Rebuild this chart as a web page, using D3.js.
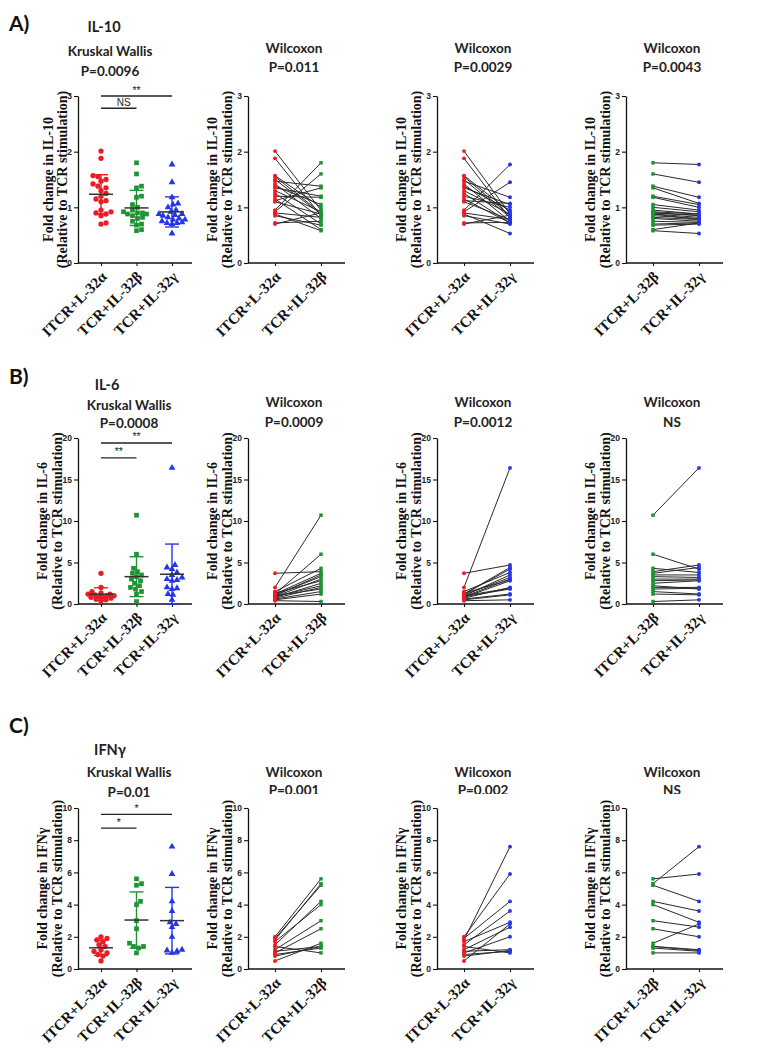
<!DOCTYPE html>
<html><head><meta charset="utf-8">
<script src="https://cdn.jsdelivr.net/npm/d3@7"></script>
<style>body{margin:0;background:#fff}</style>
</head><body><svg id="c" width="775" height="1050"></svg>
<script>
// ---------------- DATA ----------------
const rowLetters = ["A)", "B)", "C)"];
const cytokines = ["IL-10", "IL-6", "IFNγ"];
const yLabels = ["Fold change in IL-10", "Fold change in IL-6", "Fold change in IFNγ"];
const yLabel2 = "(Relative to TCR stimulation)";
const groupNames = ["ITCR+L-32α", "TCR+IL-32β", "TCR+IL-32γ"];
const pairGroups = [[0, 1], [0, 2], [1, 2]];
const pairAxisLabels = [["ITCR+L-32α", "TCR+IL-32β"], ["ITCR+L-32α", "TCR+IL-32γ"], ["ITCR+L-32β", "TCR+IL-32γ"]];
const ticksIL10 = [0, 1, 2, 3];
const ticksIL6 = [0, 5, 10, 15, 20];
const ticksIFN = [0, 2, 4, 6, 8, 10];
const kruskalP = ["P=0.0096", "P=0.0008", "P=0.01"];
const wilcoxonP = [["P=0.011", "P=0.0029", "P=0.0043"], ["P=0.0009", "P=0.0012", "NS"], ["P=0.001", "P=0.002", "NS"]];
const sigPairs = [[0, 1], [0, 2]];
const sigText = [["NS", "**"], ["**", "**"], ["*", "*"]];
const sigLevel = [[2.78, 3.0], [17.6, 19.4], [8.75, 9.6]];

const il10Alpha = [2.01, 1.88, 1.57, 1.55, 1.50, 1.47, 1.42, 1.38, 1.35, 1.30, 1.25, 1.20, 1.15, 1.12, 1.10, 0.95, 0.92, 0.90, 0.88, 0.85, 0.72, 0.70];
const il10Beta  = [0.95, 0.85, 1.00, 0.90, 0.88, 1.38, 0.80, 1.05, 1.20, 0.92, 0.70, 1.18, 0.60, 1.35, 0.88, 1.80, 1.60, 0.82, 0.58, 0.68, 0.75, 0.90];
const il10Gamma = [0.88, 0.80, 0.92, 0.85, 0.82, 1.18, 0.75, 0.95, 1.05, 0.88, 0.72, 1.00, 0.72, 1.07, 0.78, 1.77, 1.45, 0.78, 0.53, 0.70, 0.73, 0.86];

const il6Alpha = [2.0, 3.7, 1.2, 1.5, 1.0, 1.1, 0.9, 1.3, 0.8, 0.7, 1.0, 0.6, 0.5, 1.2, 0.9, 0.4];
const il6Beta  = [10.7, 3.9, 6.0, 4.3, 3.5, 3.3, 3.0, 2.8, 2.5, 2.0, 1.8, 1.5, 1.2, 3.7, 2.2, 0.3];
const il6Gamma = [16.4, 4.7, 4.2, 3.8, 3.5, 3.2, 3.0, 2.9, 2.8, 2.0, 1.9, 1.2, 1.1, 4.4, 1.8, 0.5];

const ifnAlpha = [1.8, 2.0, 1.9, 1.5, 1.7, 1.2, 1.0, 0.5, 1.1, 0.9, 1.4, 0.8];
const ifnBeta  = [5.3, 5.6, 5.2, 4.2, 4.0, 3.0, 2.5, 1.6, 1.4, 1.3, 1.0, 1.4];
const ifnGamma = [7.6, 5.9, 4.2, 3.6, 2.9, 2.6, 2.0, 2.8, 1.2, 1.1, 1.0, 1.15];

// ---------------- LAYOUT / STYLE ----------------
const rows = [
  {ticks: ticksIL10, groups: [il10Alpha, il10Beta, il10Gamma]},
  {ticks: ticksIL6, groups: [il6Alpha, il6Beta, il6Gamma]},
  {ticks: ticksIFN, groups: [ifnAlpha, ifnBeta, ifnGamma]}
];
const geo = [
  {top: 96, bottom: 263, letterY: 24, cyto: 27, kw: 51, kp: 71, wil: 48, wp: 67, cytoX: 104, titleX: 110, lab0: [-30, -16]},
  {top: 438, bottom: 604, letterY: 377, cyto: 385, kw: 405, kp: 423, wil: 402, wp: 422, cytoX: 107, titleX: 129, lab0: [-36, -21]},
  {top: 808, bottom: 969, letterY: 726, cyto: 750, kw: 772, kp: 792, wil: 772, wp: 790, cytoX: 110, titleX: 129, lab0: [-36, -21], clipY: 794}
];
const colX = [78, 248, 437, 626];
const colors = ["#ec1c24", "#1d9334", "#2436e6"];
const symbols = [d3.symbolCircle, d3.symbolSquare, d3.symbolTriangle];
const titleFont = "Lato, 'Open Sans', sans-serif";
const serif = "'Liberation Serif', 'DejaVu Serif', serif";

const svg = d3.select("#c");
svg.append("rect").attr("width", 775).attr("height", 1050).attr("fill", "#fff");
const defs = svg.append("defs");

function styleAxis(g) {
  g.selectAll(".domain").attr("stroke", "#111").attr("stroke-width", 1.3);
  g.selectAll(".tick line").attr("stroke", "#111").attr("stroke-width", 1.1);
  g.selectAll(".tick text").attr("font-family", "'Liberation Sans', Arial, sans-serif")
    .attr("font-weight", "bold").attr("font-size", 8.5).attr("fill", "#222");
}

function drawYLabel(g, r, x, cy, offs) {
  const t = g.append("g").attr("transform", `translate(${x},${cy}) rotate(-90)`);
  [yLabels[r], yLabel2].forEach((txt, i) => {
    t.append("text").attr("x", 0).attr("y", offs[i]).attr("dy", "0.35em").attr("text-anchor", "middle")
      .attr("font-family", serif).attr("font-weight", "bold").attr("font-size", 14).attr("fill", "#111").text(txt);
  });
}

function drawXLabels(g, x, keys, labels, bottom) {
  keys.forEach((k, i) => {
    g.append("text").attr("transform", `translate(${x(k) + 3},${bottom + 11}) rotate(-45)`)
      .attr("text-anchor", "end").attr("dy", "0.35em")
      .attr("font-family", serif).attr("font-weight", "bold").attr("font-size", 15)
      .attr("fill", "#111").text(labels[i]);
  });
}

// horizontal dodge of overlapping points, limited to +/- maxOff around the category centre
function swarm(values, y, cx, minDist, maxOff) {
  const order = d3.range(values.length).sort((a, b) => values[a] - values[b]);
  const placed = [];
  const xs = [];
  for (const i of order) {
    const yi = y(values[i]);
    let chosen = null, bestX = cx, bestD = -1;
    for (let k = 0; k <= maxOff * 2; k++) {
      const off = (k % 2 ? 1 : -1) * Math.ceil(k / 2);
      const xi = cx + off;
      const dmin = placed.length ? d3.min(placed, p => Math.hypot(p[0] - xi, p[1] - yi)) : Infinity;
      if (dmin >= minDist) { chosen = xi; break; }
      if (dmin > bestD) { bestD = dmin; bestX = xi; }
    }
    if (chosen === null) chosen = bestX;
    placed.push([chosen, yi]); xs[i] = chosen;
  }
  return xs;
}

function title(g, x, y, txt, size) {
  return g.append("text").attr("x", x).attr("y", y).attr("dy", "0.35em").attr("text-anchor", "middle")
    .attr("font-family", titleFont).attr("font-weight", "bold").attr("font-size", size)
    .attr("fill", "#222").text(txt);
}

rows.forEach((row, r) => {
  const G = geo[r];
  const maxV = d3.max(row.ticks);
  const y = d3.scaleLinear().domain([0, maxV]).range([G.bottom, G.top]);
  const yAxis = d3.axisLeft(y).tickValues(row.ticks).tickFormat(d3.format("d"))
    .tickSize(4).tickSizeOuter(0).tickPadding(2);

  // ----- row letter & column-1 titles -----
  svg.append("text").attr("x", 9).attr("y", G.letterY).attr("dy", "0.35em")
    .attr("font-family", titleFont).attr("font-weight", "bold").attr("font-size", 21).attr("fill", "#111")
    .text(rowLetters[r]);
  title(svg, G.cytoX, G.cyto, cytokines[r], 14.5);
  title(svg, G.titleX, G.kw, "Kruskal Wallis", 13.5);
  title(svg, G.titleX, G.kp, kruskalP[r], 13.5);

  // ----- column 1 : scatter with mean ± SD -----
  {
    const cx0 = colX[0];
    const g = svg.append("g");
    const x = d3.scalePoint().domain([0, 1, 2]).range([cx0 + 23, cx0 + 94]);
    g.append("g").attr("transform", `translate(${cx0},0)`).call(yAxis).call(styleAxis);
    const xa = g.append("g").attr("transform", `translate(0,${G.bottom})`)
      .call(d3.axisBottom(x).tickSize(3).tickFormat(""));
    xa.select(".domain").remove();
    styleAxis(xa);
    g.append("line").attr("x1", cx0).attr("x2", cx0 + 114).attr("y1", G.bottom).attr("y2", G.bottom)
      .attr("stroke", "#111").attr("stroke-width", 1.3);
    drawYLabel(g, r, cx0, (G.top + G.bottom) / 2, G.lab0);
    drawXLabels(g, x, [0, 1, 2], groupNames, G.bottom);

    row.groups.forEach((vals, k) => {
      const xs = swarm(vals, y, x(k), 5, 13);
      g.selectAll(null).data(vals).join("path")
        .attr("transform", (d, i) => `translate(${xs[i]},${y(d)})`)
        .attr("d", d3.symbol().type(symbols[k]).size(k === 2 ? 20 : 22))
        .attr("fill", colors[k]);
      const m = d3.mean(vals), sd = d3.deviation(vals);
      const lo = Math.max(0, m - sd), hi = m + sd;
      g.append("line").attr("x1", x(k)).attr("x2", x(k)).attr("y1", y(lo)).attr("y2", y(hi))
        .attr("stroke", colors[k]).attr("stroke-width", 1.4);
      [lo, hi].forEach(v => g.append("line").attr("x1", x(k) - 7).attr("x2", x(k) + 7)
        .attr("y1", y(v)).attr("y2", y(v)).attr("stroke", colors[k]).attr("stroke-width", 1.4));
      g.append("line").attr("x1", x(k) - 12).attr("x2", x(k) + 12).attr("y1", y(m)).attr("y2", y(m))
        .attr("stroke", "#333").attr("stroke-width", 1.5);
    });

    sigPairs.forEach((p, s) => {
      const yy = y(sigLevel[r][s]);
      g.append("line").attr("x1", x(p[0])).attr("x2", x(p[1])).attr("y1", yy).attr("y2", yy)
        .attr("stroke", "#222").attr("stroke-width", 1.3);
      g.append("text").attr("x", (x(p[0]) + x(p[1])) / 2 + (sigText[r][s] === "NS" ? 5 : 0)).attr("y", yy - 2.5)
        .attr("text-anchor", "middle").attr("font-family", "'Liberation Sans', Arial, sans-serif")
        .attr("font-size", sigText[r][s] === "NS" ? 10 : 10.5).attr("fill", "#222").text(sigText[r][s]);
    });
  }

  // ----- columns 2-4 : paired plots -----
  pairGroups.forEach((pg, c) => {
    const cx0 = colX[c + 1];
    const g = svg.append("g");
    const x = d3.scalePoint().domain(pg).range([cx0 + 27, cx0 + 73]);

    let tg = g;
    if (G.clipY) {
      const id = `clip${r}${c}`;
      defs.append("clipPath").attr("id", id).append("rect")
        .attr("x", cx0 - 40).attr("y", G.wil - 20).attr("width", 180).attr("height", G.clipY - (G.wil - 20));
      tg = g.append("g").attr("clip-path", `url(#${id})`);
    }
    title(tg, cx0 + 46, G.wil, "Wilcoxon", 13.5);
    title(tg, cx0 + 46, G.wp, wilcoxonP[r][c], 13.5);

    g.append("g").attr("transform", `translate(${cx0},0)`).call(yAxis).call(styleAxis);
    const xa = g.append("g").attr("transform", `translate(0,${G.bottom})`)
      .call(d3.axisBottom(x).tickSize(3).tickFormat(""));
    xa.select(".domain").remove();
    styleAxis(xa);
    g.append("line").attr("x1", cx0).attr("x2", cx0 + 97).attr("y1", G.bottom).attr("y2", G.bottom)
      .attr("stroke", "#111").attr("stroke-width", 1.3);
    drawYLabel(g, r, cx0, (G.top + G.bottom) / 2, [-36, -21]);
    drawXLabels(g, x, pg, pairAxisLabels[c], G.bottom);

    const a = row.groups[pg[0]], b = row.groups[pg[1]];
    g.selectAll(null).data(d3.range(a.length)).join("line")
      .attr("x1", x(pg[0])).attr("x2", x(pg[1]))
      .attr("y1", i => y(a[i])).attr("y2", i => y(b[i]))
      .attr("stroke", "#2a2a2a").attr("stroke-width", 1);
    pg.forEach(k => {
      g.selectAll(null).data(row.groups[k]).join("path")
        .attr("transform", d => `translate(${x(k)},${y(d)})`)
        .attr("d", d3.symbol().type(k === 1 ? d3.symbolSquare : d3.symbolCircle).size(12))
        .attr("fill", colors[k]);
    });
  });
});
</script>
</body></html>
